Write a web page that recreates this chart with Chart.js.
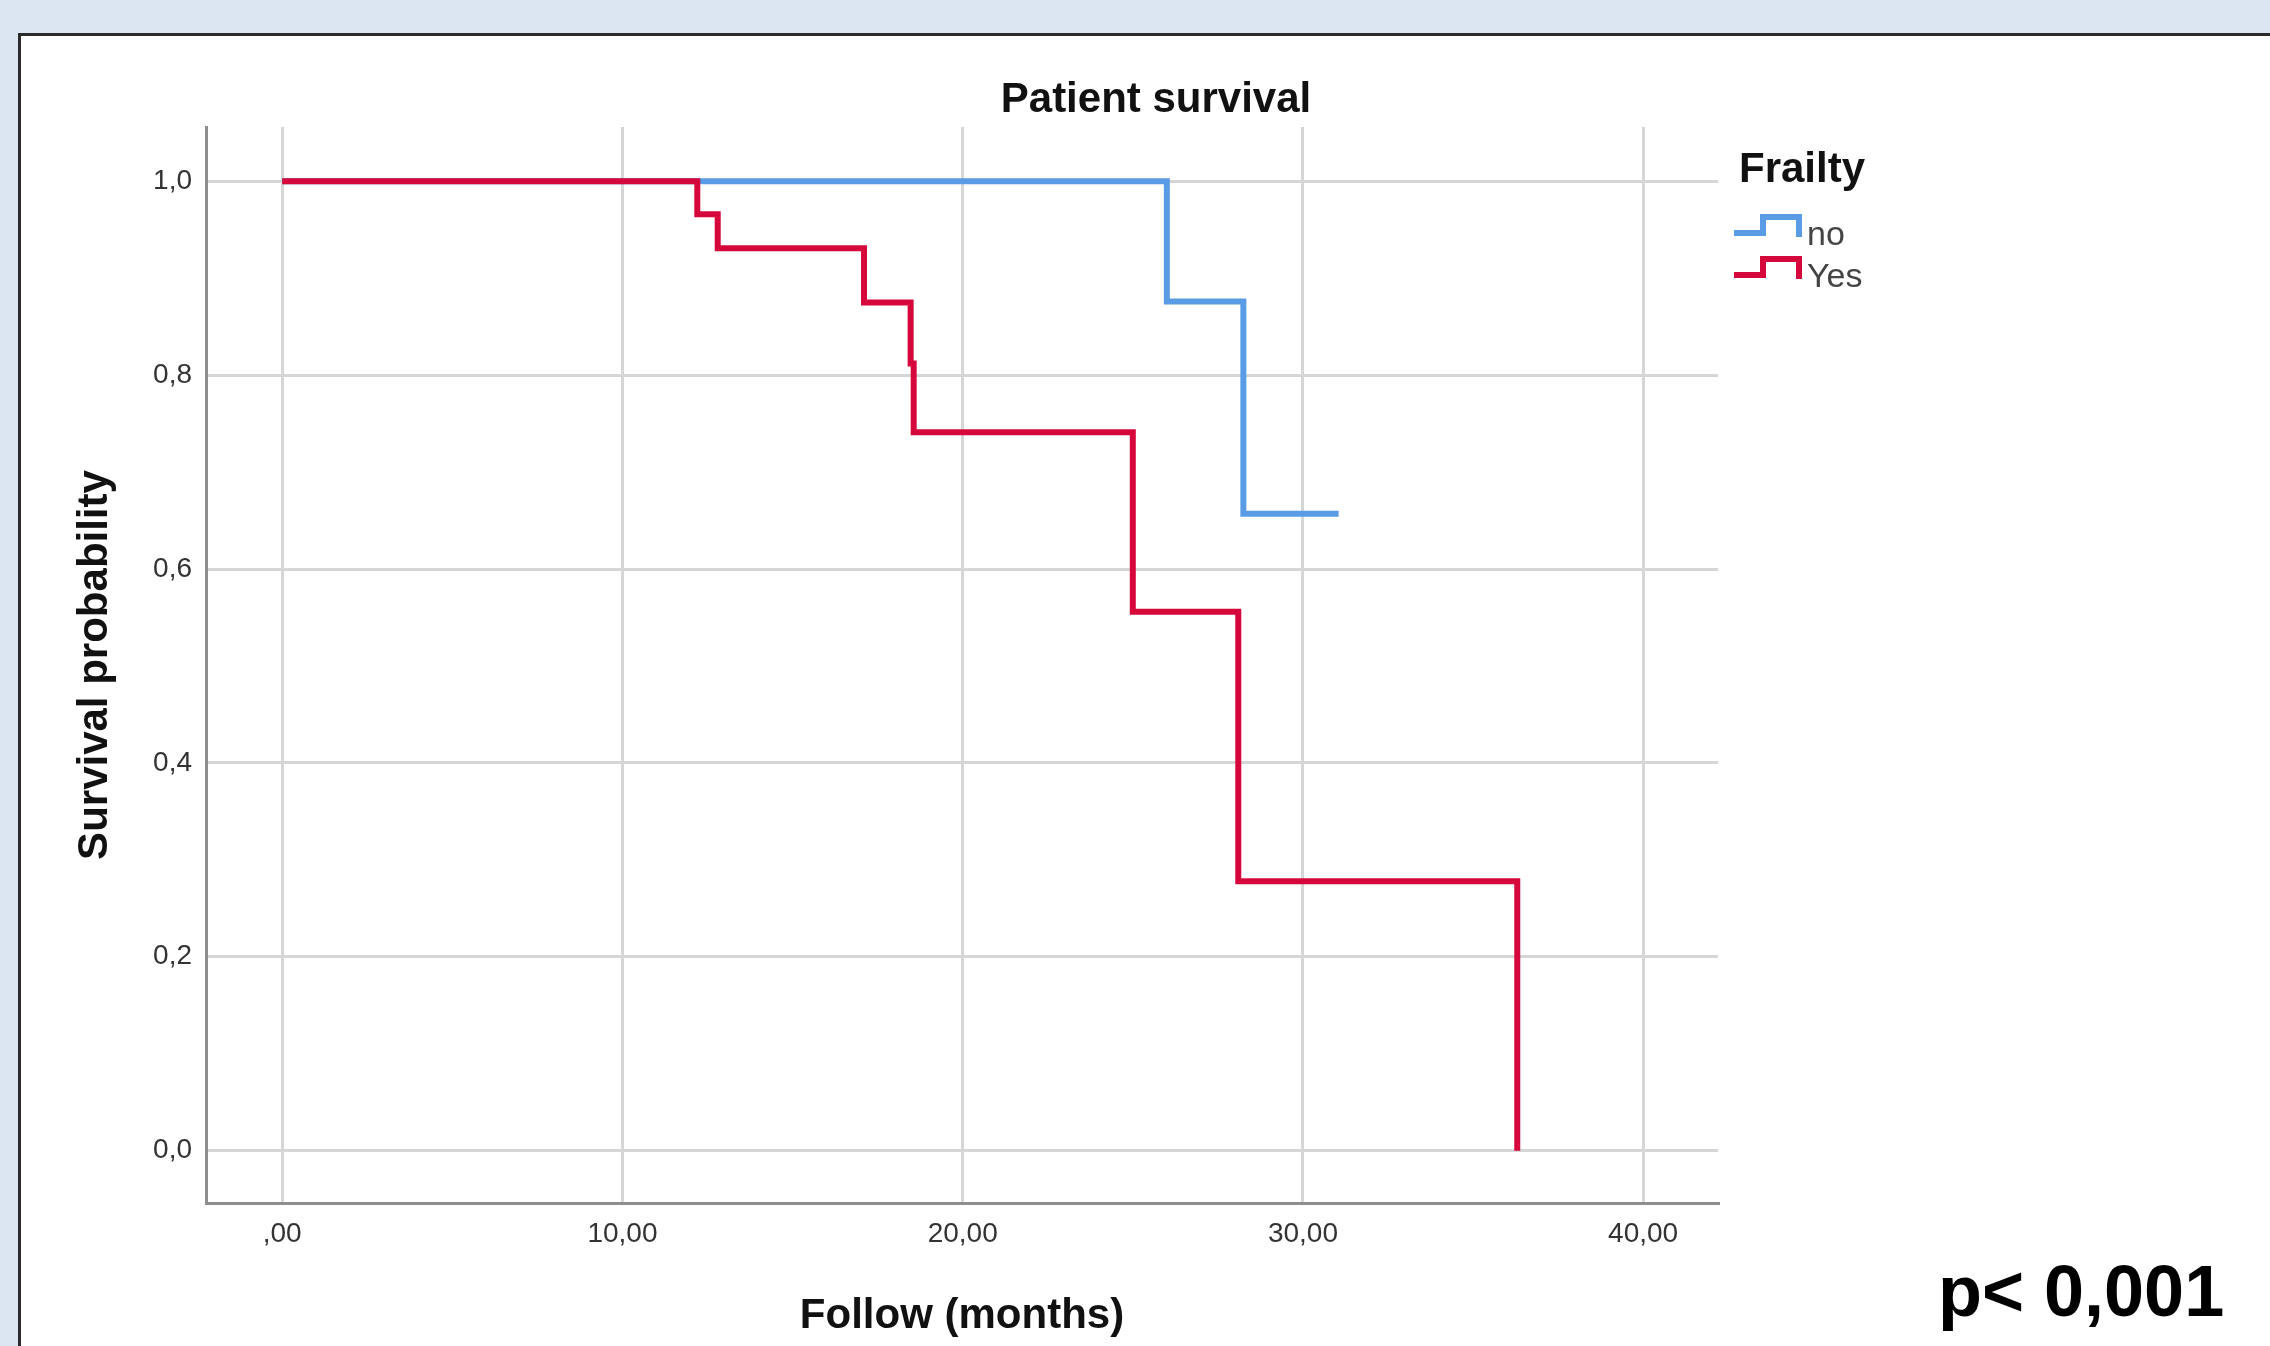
<!DOCTYPE html>
<html>
<head>
<meta charset="utf-8">
<title>Patient survival</title>
<script src="https://cdn.jsdelivr.net/npm/chart.js@4.4.1/dist/chart.umd.min.js"></script>
<style>
  html, body { margin: 0; padding: 0; }
  body { width: 2270px; height: 1346px; background: #dce6f2; position: relative; overflow: hidden; }
  #panel { position: absolute; left: 18px; top: 33px; width: 2300px; height: 1400px; background: #fff; border-left: 3px solid #2b2b2b; border-top: 3px solid #2b2b2b; }
  #chart { position: absolute; left: 0; top: 0; }
</style>
</head>
<body>
<div id="panel"></div>
<canvas id="chart" width="2270" height="1346"></canvas>
<script>
const noTimes = [0, 26.0, 28.25, 31.05];
const noSurvival = [1, 0.876, 0.657, 0.657];
const yesTimes = [0, 12.2, 12.8, 17.1, 18.47, 18.56, 25.0, 28.1, 36.3];
const yesSurvival = [1, 0.966, 0.931, 0.875, 0.812, 0.741, 0.556, 0.278, 0];

const groupLabels = ['no', 'Yes'];
const groupColors = ['#5a9be6', '#d6083b'];

const xTicks = [0, 10, 20, 30, 40];
const xTickLabels = [',00', '10,00', '20,00', '30,00', '40,00'];
const yTicks = [0, 0.2, 0.4, 0.6, 0.8, 1.0];
const yTickLabels = ['0,0', '0,2', '0,4', '0,6', '0,8', '1,0'];

const FONT = '"Liberation Sans", Arial, sans-serif';

function toPoints(xs, ys) {
  return xs.map((x, i) => ({ x: x, y: ys[i] }));
}

// title, legend and p value
const overlay = {
  id: 'overlay',
  afterDraw(chart) {
    const ctx = chart.ctx;
    ctx.save();
    ctx.textBaseline = 'alphabetic';

    ctx.fillStyle = '#111';
    ctx.font = 'bold 42px ' + FONT;
    ctx.textAlign = 'center';
    ctx.fillText('Patient survival', 1156, 112);

    ctx.textAlign = 'left';
    ctx.fillText('Frailty', 1739, 182);

    const rows = [245, 287];
    chart.data.datasets.forEach((ds, i) => {
      const base = rows[i];
      const low = base - 12, high = low - 16;
      ctx.strokeStyle = ds.borderColor;
      ctx.lineWidth = 6;
      ctx.lineJoin = 'miter';
      ctx.beginPath();
      ctx.moveTo(1734, low);
      ctx.lineTo(1763, low);
      ctx.lineTo(1763, high);
      ctx.lineTo(1799, high);
      ctx.lineTo(1799, low + 4);
      ctx.stroke();

      ctx.fillStyle = '#444';
      ctx.font = '34px ' + FONT;
      ctx.fillText(ds.label, 1807, base);
    });

    ctx.fillStyle = '#000';
    ctx.font = 'bold 72px ' + FONT;
    ctx.fillText('p< 0,001', 1938, 1316);
    ctx.restore();
  }
};

const ctx = document.getElementById('chart').getContext('2d');
const survivalChart = new Chart(ctx, {
  type: 'line',
  data: {
    datasets: [
      {
        label: groupLabels[0],
        data: toPoints(noTimes, noSurvival),
        borderColor: groupColors[0],
        borderWidth: 6,
        stepped: true,
        pointRadius: 0,
        fill: false,
        order: 1
      },
      {
        label: groupLabels[1],
        data: toPoints(yesTimes, yesSurvival),
        borderColor: groupColors[1],
        borderWidth: 6,
        stepped: true,
        pointRadius: 0,
        fill: false,
        order: 0
      }
    ]
  },
  options: {
    responsive: false,
    animation: false,
    devicePixelRatio: 1,
    layout: { padding: { left: 0, right: 552, top: 127, bottom: 0 } },
    plugins: {
      legend: { display: false },
      title: { display: false },
      tooltip: { enabled: false }
    },
    scales: {
      x: {
        type: 'linear',
        min: -2.24,
        max: 42.2,
        afterBuildTicks: (scale) => { scale.ticks = xTicks.map(v => ({ value: v })); },
        afterFit: (scale) => { scale.height = 143; },
        ticks: {
          autoSkip: false,
          maxRotation: 0,
          padding: 14,
          color: '#333',
          font: { family: FONT, size: 28 },
          callback: (value) => xTickLabels[xTicks.indexOf(value)]
        },
        grid: { color: '#d6d6d6', lineWidth: 3, drawTicks: false },
        border: { display: true, color: '#8e8e8e', width: 3 },
        title: {
          display: true,
          text: 'Follow (months)',
          color: '#111',
          font: { family: FONT, size: 42, weight: 'bold' },
          padding: { top: 0, bottom: 4 }
        }
      },
      y: {
        type: 'linear',
        min: -0.054,
        max: 1.056,
        afterBuildTicks: (scale) => { scale.ticks = yTicks.map(v => ({ value: v })); },
        afterFit: (scale) => { scale.width = 206; },
        ticks: {
          autoSkip: false,
          padding: 14,
          color: '#333',
          font: { family: FONT, size: 28 },
          callback: (value) => yTickLabels[yTicks.indexOf(value)]
        },
        grid: { color: '#d6d6d6', lineWidth: 3, drawTicks: false },
        border: { display: true, color: '#8e8e8e', width: 3 },
        title: {
          display: true,
          text: 'Survival probability',
          color: '#111',
          font: { family: FONT, size: 42, weight: 'bold' },
          padding: { top: 70, bottom: 0 }
        }
      }
    }
  },
  plugins: [overlay]
});
</script>
</body>
</html>
